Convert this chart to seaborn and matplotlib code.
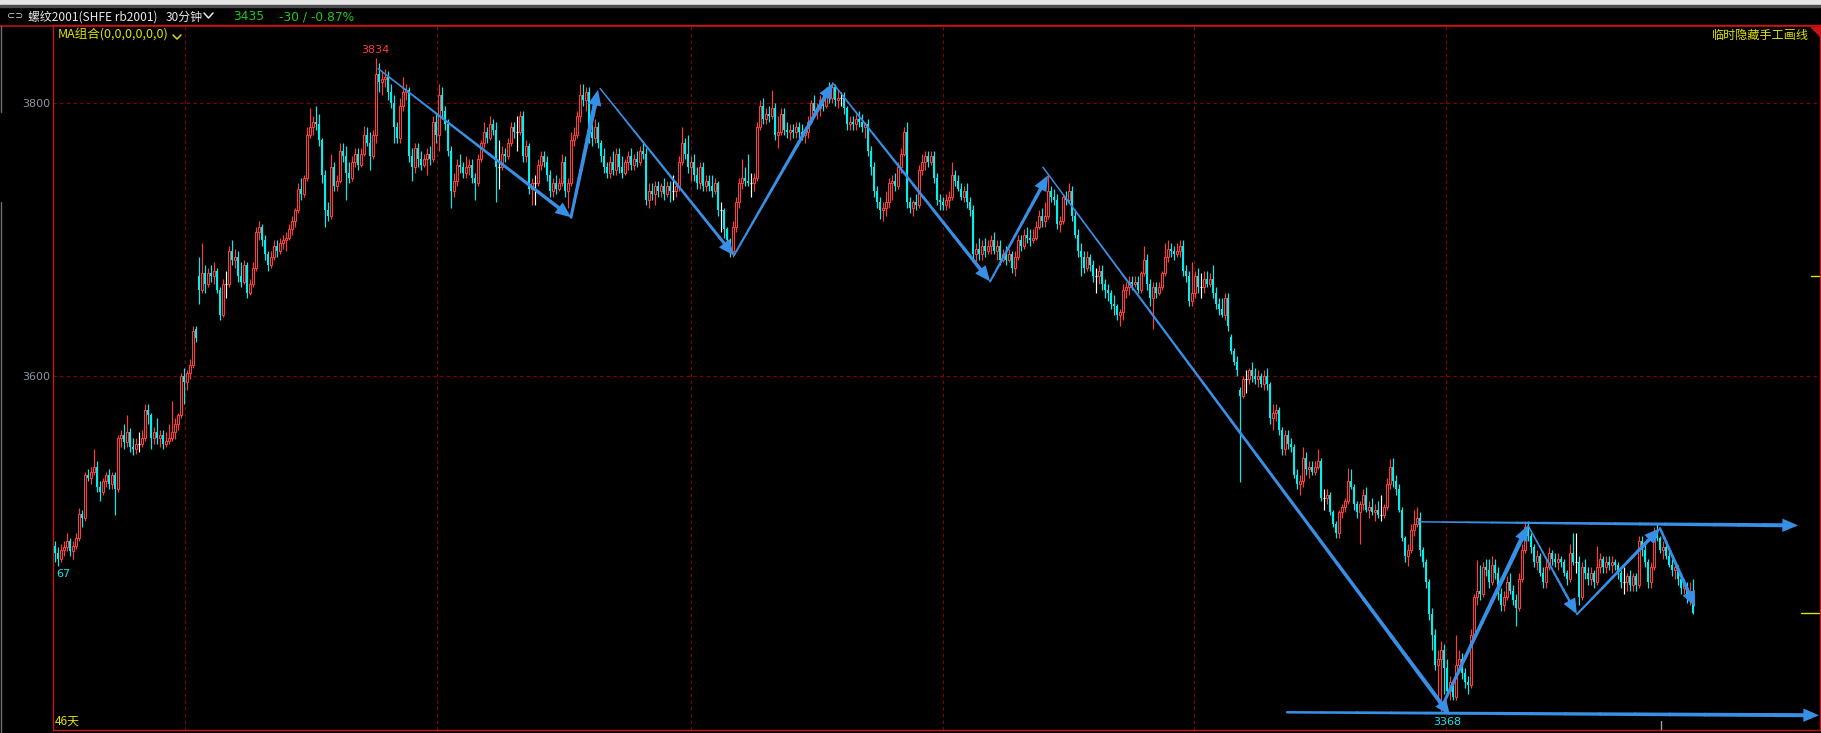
import numpy as np
import matplotlib
matplotlib.use("Agg")
import matplotlib.pyplot as plt
import seaborn as sns
from matplotlib.collections import LineCollection
from matplotlib.lines import Line2D
from matplotlib.patches import Rectangle, Polygon
from matplotlib.ticker import NullLocator

sns.set_style("dark", {"axes.facecolor": "black", "figure.facecolor": "black"})
plt.rcParams['font.family'] = ['DejaVu Sans', 'Noto Sans CJK SC']
CJK = ['Noto Sans CJK SC', 'DejaVu Sans']

# 30-minute candles, rb2001
opens = [
    3481, 3476, 3472, 3478, 3480, 3484, 3477, 3481, 3486, 3503,
    3500, 3530, 3528, 3532, 3536, 3522, 3518, 3526, 3530, 3524,
    3530, 3520, 3556, 3558, 3553, 3560, 3550, 3548, 3552, 3552,
    3556, 3576, 3572, 3556, 3560, 3556, 3558, 3552, 3554, 3556,
    3560, 3566, 3572, 3600, 3596, 3602, 3608, 3634, 3672, 3662,
    3674, 3666, 3674, 3672, 3676, 3662, 3644, 3666, 3666, 3690,
    3684, 3686, 3672, 3668, 3680, 3660, 3666, 3678, 3704, 3708,
    3698, 3688, 3680, 3686, 3694, 3690, 3696, 3698, 3700, 3706,
    3712, 3720, 3736, 3732, 3744, 3776, 3782, 3786, 3784, 3772,
    3746, 3720, 3716, 3752, 3738, 3742, 3764, 3760, 3748, 3744,
    3756, 3762, 3754, 3762, 3776, 3770, 3760, 3776, 3822, 3816,
    3818, 3820, 3808, 3800, 3782, 3774, 3798, 3808, 3810, 3760,
    3752, 3766, 3758, 3754, 3758, 3762, 3758, 3786, 3776, 3806,
    3794, 3784, 3764, 3734, 3742, 3754, 3752, 3748, 3752, 3754,
    3744, 3740, 3758, 3770, 3778, 3774, 3784, 3780, 3752, 3752,
    3762, 3760, 3770, 3782, 3778, 3778, 3790, 3760, 3768, 3736,
    3740, 3740, 3754, 3760, 3756, 3746, 3734, 3740, 3736, 3740,
    3756, 3734, 3740, 3772, 3776, 3790, 3806, 3802, 3808, 3778,
    3774, 3782, 3770, 3760, 3752, 3748, 3756, 3750, 3762, 3752,
    3748, 3756, 3760, 3754, 3758, 3756, 3764, 3762, 3728, 3734,
    3732, 3738, 3734, 3738, 3732, 3738, 3734, 3734, 3738, 3756,
    3770, 3762, 3752, 3756, 3746, 3740, 3752, 3738, 3742, 3738,
    3734, 3740, 3720, 3720, 3706, 3698, 3690, 3708, 3726, 3740,
    3744, 3742, 3740, 3740, 3744, 3782, 3798, 3788, 3792, 3790,
    3796, 3776, 3778, 3792, 3780, 3778, 3780, 3778, 3782, 3778,
    3776, 3778, 3786, 3800, 3794, 3796, 3802, 3798, 3808, 3804,
    3812, 3802, 3804, 3804, 3796, 3784, 3786, 3784, 3788, 3786,
    3782, 3784, 3764, 3752, 3734, 3726, 3720, 3722, 3726, 3740,
    3742, 3738, 3752, 3762, 3778, 3726, 3722, 3726, 3724, 3750,
    3756, 3760, 3756, 3760, 3744, 3728, 3726, 3724, 3728, 3730,
    3746, 3742, 3736, 3730, 3734, 3726, 3720, 3688, 3692, 3688,
    3694, 3690, 3694, 3698, 3690, 3694, 3684, 3688, 3684, 3688,
    3678, 3686, 3698, 3694, 3702, 3700, 3698, 3700, 3708, 3716,
    3712, 3716, 3734, 3730, 3728, 3710, 3712, 3730, 3728, 3734,
    3716, 3702, 3690, 3686, 3678, 3686, 3680, 3672, 3672, 3676,
    3666, 3662, 3660, 3652, 3650, 3644, 3646, 3662, 3664, 3668,
    3666, 3668, 3662, 3674, 3684, 3666, 3656, 3664, 3660, 3664,
    3674, 3686, 3692, 3690, 3688, 3690, 3694, 3676, 3672, 3654,
    3660, 3672, 3664, 3664, 3670, 3666, 3670, 3660, 3652, 3648,
    3644, 3656, 3628, 3618, 3610, 3590, 3586, 3598, 3598, 3604,
    3600, 3598, 3600, 3594, 3600, 3594, 3570, 3574, 3576, 3562,
    3548, 3558, 3552, 3550, 3530, 3524, 3526, 3542, 3534, 3536,
    3532, 3536, 3540, 3514, 3514, 3516, 3504, 3496, 3490, 3504,
    3508, 3512, 3526, 3522, 3510, 3504, 3510, 3516, 3506, 3508,
    3504, 3506, 3502, 3502, 3508, 3524, 3536, 3526, 3520, 3506,
    3486, 3474, 3478, 3492, 3496, 3500, 3478, 3470, 3456, 3434,
    3420, 3400, 3404, 3410, 3398, 3382, 3388, 3378, 3400, 3404,
    3394, 3388, 3386, 3420, 3446, 3450, 3448, 3466, 3464, 3456,
    3468, 3462, 3448, 3440, 3446, 3456, 3450, 3444, 3438, 3458,
    3478, 3494, 3488, 3480, 3470, 3474, 3462, 3456, 3466, 3476,
    3472, 3470, 3472, 3470, 3462, 3458, 3476, 3470, 3470, 3446,
    3466, 3462, 3458, 3462, 3456, 3466, 3472, 3466, 3470, 3468,
    3470, 3468, 3462, 3456, 3456, 3460, 3454, 3460, 3454, 3484,
    3478, 3470, 3456, 3466, 3490, 3486, 3478, 3480, 3474, 3468,
    3464, 3466, 3458, 3452, 3454, 3446, 3450,
]
highs = [
    3484, 3480, 3482, 3484, 3490, 3486, 3484, 3490, 3507, 3506,
    3532, 3534, 3536, 3548, 3540, 3526, 3528, 3532, 3534, 3532,
    3532, 3558, 3562, 3566, 3572, 3563, 3556, 3556, 3560, 3562,
    3580, 3580, 3574, 3564, 3570, 3562, 3562, 3560, 3566, 3582,
    3570, 3574, 3602, 3606, 3604, 3612, 3636, 3636, 3686, 3696,
    3680, 3678, 3680, 3682, 3678, 3664, 3670, 3676, 3694, 3698,
    3692, 3690, 3682, 3684, 3682, 3670, 3682, 3708, 3712, 3710,
    3702, 3690, 3690, 3698, 3698, 3700, 3702, 3704, 3710, 3716,
    3722, 3740, 3744, 3746, 3782, 3796, 3790, 3798, 3792, 3774,
    3750, 3726, 3762, 3756, 3746, 3770, 3770, 3768, 3756, 3760,
    3766, 3766, 3766, 3783, 3782, 3778, 3780, 3834, 3830, 3824,
    3826, 3824, 3814, 3806, 3786, 3804, 3820, 3814, 3812, 3766,
    3770, 3770, 3764, 3762, 3766, 3768, 3790, 3792, 3814, 3812,
    3798, 3788, 3768, 3748, 3758, 3762, 3756, 3760, 3758, 3758,
    3748, 3762, 3772, 3786, 3782, 3790, 3788, 3786, 3772, 3768,
    3766, 3774, 3786, 3786, 3790, 3794, 3794, 3772, 3770, 3744,
    3746, 3758, 3764, 3764, 3760, 3750, 3744, 3746, 3744, 3762,
    3760, 3744, 3778, 3782, 3794, 3814, 3814, 3812, 3812, 3784,
    3788, 3786, 3772, 3766, 3756, 3760, 3764, 3766, 3766, 3760,
    3758, 3764, 3766, 3762, 3764, 3768, 3770, 3766, 3740, 3740,
    3742, 3742, 3740, 3744, 3742, 3742, 3746, 3742, 3760, 3782,
    3774, 3776, 3760, 3762, 3752, 3756, 3756, 3746, 3746, 3746,
    3744, 3742, 3726, 3722, 3708, 3700, 3712, 3730, 3744, 3758,
    3752, 3762, 3748, 3748, 3786, 3802, 3804, 3796, 3798, 3810,
    3800, 3790, 3796, 3796, 3786, 3784, 3784, 3786, 3786, 3784,
    3782, 3790, 3802, 3806, 3800, 3806, 3808, 3812, 3816, 3816,
    3814, 3810, 3808, 3808, 3798, 3790, 3790, 3792, 3794, 3792,
    3786, 3788, 3768, 3756, 3738, 3730, 3726, 3734, 3744, 3746,
    3748, 3756, 3766, 3782, 3786, 3730, 3728, 3732, 3754, 3762,
    3764, 3764, 3764, 3764, 3748, 3732, 3730, 3732, 3734, 3756,
    3750, 3746, 3740, 3738, 3740, 3730, 3724, 3696, 3700, 3698,
    3700, 3698, 3702, 3704, 3698, 3698, 3692, 3694, 3692, 3690,
    3690, 3702, 3702, 3706, 3708, 3706, 3706, 3712, 3720, 3722,
    3726, 3746, 3738, 3736, 3732, 3716, 3732, 3734, 3740, 3738,
    3720, 3706, 3696, 3690, 3690, 3688, 3684, 3678, 3680, 3680,
    3670, 3666, 3662, 3658, 3652, 3648, 3666, 3668, 3672, 3672,
    3672, 3672, 3676, 3694, 3688, 3670, 3668, 3668, 3668, 3676,
    3696, 3698, 3696, 3694, 3696, 3698, 3698, 3680, 3676, 3682,
    3676, 3678, 3674, 3676, 3676, 3674, 3680, 3664, 3656, 3656,
    3660, 3660, 3630, 3620, 3614, 3592, 3600, 3604, 3606, 3610,
    3606, 3604, 3602, 3604, 3606, 3596, 3580, 3580, 3578, 3564,
    3562, 3562, 3556, 3552, 3534, 3530, 3550, 3546, 3540, 3540,
    3540, 3548, 3542, 3520, 3520, 3518, 3506, 3498, 3506, 3510,
    3514, 3535, 3534, 3524, 3512, 3512, 3520, 3522, 3512, 3514,
    3510, 3512, 3516, 3510, 3528, 3541, 3542, 3530, 3524, 3508,
    3488, 3482, 3496, 3506, 3508, 3504, 3480, 3472, 3458, 3438,
    3424, 3410, 3416, 3414, 3404, 3392, 3390, 3420, 3410, 3408,
    3398, 3392, 3424, 3448, 3471, 3468, 3470, 3472, 3472, 3474,
    3472, 3466, 3452, 3450, 3460, 3462, 3454, 3448, 3462, 3482,
    3498, 3498, 3490, 3482, 3478, 3476, 3466, 3472, 3480, 3478,
    3476, 3476, 3474, 3472, 3464, 3482, 3490, 3490, 3474, 3470,
    3472, 3466, 3466, 3464, 3481, 3476, 3474, 3474, 3474, 3474,
    3472, 3470, 3464, 3466, 3462, 3464, 3462, 3462, 3488, 3488,
    3482, 3472, 3470, 3494, 3496, 3488, 3484, 3482, 3478, 3472,
    3468, 3468, 3462, 3458, 3456, 3456, 3458,
]
lows = [
    3470, 3467, 3470, 3474, 3477, 3474, 3472, 3479, 3484, 3494,
    3498, 3526, 3524, 3530, 3518, 3512, 3516, 3522, 3520, 3520,
    3502, 3518, 3550, 3548, 3550, 3546, 3544, 3545, 3546, 3550,
    3554, 3566, 3548, 3552, 3552, 3550, 3548, 3550, 3552, 3554,
    3555, 3562, 3570, 3580, 3590, 3598, 3606, 3624, 3652, 3660,
    3660, 3664, 3668, 3666, 3660, 3640, 3642, 3656, 3664, 3680,
    3678, 3668, 3664, 3666, 3656, 3658, 3664, 3676, 3698, 3694,
    3684, 3676, 3678, 3684, 3686, 3688, 3692, 3690, 3698, 3702,
    3708, 3718, 3728, 3730, 3742, 3774, 3776, 3780, 3768, 3740,
    3708, 3712, 3714, 3734, 3734, 3740, 3756, 3728, 3740, 3742,
    3752, 3750, 3752, 3760, 3768, 3750, 3758, 3770, 3808, 3806,
    3812, 3802, 3796, 3770, 3770, 3770, 3794, 3802, 3756, 3742,
    3748, 3752, 3750, 3752, 3746, 3754, 3756, 3770, 3764, 3788,
    3780, 3760, 3722, 3730, 3738, 3748, 3744, 3744, 3746, 3740,
    3728, 3738, 3756, 3766, 3770, 3772, 3776, 3726, 3736, 3750,
    3756, 3758, 3768, 3774, 3764, 3776, 3756, 3756, 3732, 3724,
    3724, 3738, 3750, 3752, 3742, 3730, 3730, 3732, 3734, 3738,
    3730, 3722, 3738, 3768, 3774, 3786, 3798, 3794, 3770, 3768,
    3770, 3766, 3756, 3748, 3744, 3744, 3746, 3746, 3748, 3744,
    3746, 3750, 3750, 3750, 3752, 3754, 3758, 3724, 3722, 3728,
    3724, 3730, 3730, 3728, 3730, 3726, 3728, 3730, 3734, 3754,
    3758, 3748, 3742, 3742, 3736, 3736, 3734, 3734, 3734, 3730,
    3732, 3716, 3704, 3700, 3692, 3686, 3686, 3704, 3722, 3736,
    3738, 3738, 3730, 3734, 3742, 3780, 3784, 3784, 3786, 3788,
    3772, 3766, 3776, 3776, 3774, 3772, 3774, 3774, 3774, 3772,
    3770, 3774, 3784, 3790, 3788, 3790, 3794, 3796, 3800, 3800,
    3798, 3796, 3798, 3792, 3780, 3780, 3780, 3780, 3782, 3778,
    3774, 3760, 3746, 3730, 3722, 3714, 3712, 3716, 3722, 3728,
    3734, 3736, 3748, 3760, 3722, 3718, 3716, 3720, 3722, 3746,
    3750, 3752, 3754, 3740, 3724, 3720, 3720, 3720, 3722, 3728,
    3738, 3734, 3728, 3726, 3722, 3716, 3684, 3680, 3684, 3684,
    3686, 3688, 3688, 3688, 3684, 3680, 3682, 3680, 3682, 3674,
    3672, 3684, 3690, 3692, 3696, 3694, 3696, 3698, 3706, 3708,
    3708, 3714, 3726, 3724, 3706, 3704, 3710, 3724, 3726, 3712,
    3700, 3686, 3672, 3674, 3676, 3676, 3668, 3660, 3666, 3662,
    3656, 3654, 3648, 3644, 3640, 3636, 3640, 3656, 3658, 3662,
    3664, 3660, 3660, 3672, 3662, 3650, 3634, 3656, 3658, 3662,
    3672, 3682, 3686, 3684, 3686, 3686, 3672, 3668, 3650, 3650,
    3656, 3660, 3656, 3660, 3664, 3664, 3656, 3648, 3644, 3642,
    3640, 3632, 3616, 3608, 3600, 3525, 3584, 3588, 3594, 3596,
    3594, 3592, 3592, 3590, 3590, 3566, 3562, 3568, 3558, 3544,
    3544, 3548, 3546, 3528, 3520, 3516, 3522, 3530, 3528, 3530,
    3530, 3534, 3512, 3506, 3510, 3502, 3494, 3486, 3486, 3500,
    3504, 3510, 3520, 3506, 3500, 3482, 3506, 3504, 3500, 3502,
    3498, 3500, 3498, 3500, 3506, 3520, 3522, 3516, 3504, 3484,
    3470, 3467, 3476, 3488, 3494, 3474, 3466, 3452, 3430, 3410,
    3396, 3374, 3368, 3380, 3378, 3376, 3376, 3376, 3394, 3390,
    3384, 3380, 3384, 3418, 3440, 3444, 3446, 3460, 3452, 3454,
    3458, 3444, 3436, 3436, 3444, 3448, 3440, 3426, 3436, 3456,
    3476, 3484, 3476, 3466, 3464, 3460, 3452, 3452, 3464, 3468,
    3466, 3464, 3466, 3460, 3454, 3456, 3468, 3462, 3440, 3444,
    3458, 3454, 3454, 3452, 3454, 3462, 3462, 3462, 3464, 3462,
    3464, 3458, 3452, 3448, 3450, 3450, 3450, 3450, 3452, 3474,
    3466, 3452, 3452, 3464, 3484, 3476, 3472, 3472, 3466, 3460,
    3458, 3454, 3448, 3448, 3442, 3440, 3434,
]
closes = [
    3476, 3472, 3478, 3480, 3484, 3477, 3481, 3486, 3503, 3500,
    3530, 3528, 3532, 3536, 3522, 3518, 3526, 3530, 3524, 3530,
    3520, 3556, 3558, 3553, 3560, 3550, 3548, 3552, 3552, 3556,
    3576, 3572, 3556, 3560, 3556, 3558, 3552, 3554, 3556, 3560,
    3566, 3572, 3600, 3596, 3602, 3608, 3632, 3627, 3662, 3674,
    3666, 3674, 3672, 3676, 3662, 3644, 3666, 3666, 3690, 3684,
    3686, 3672, 3668, 3680, 3660, 3666, 3678, 3704, 3708, 3698,
    3688, 3680, 3686, 3694, 3690, 3696, 3698, 3700, 3706, 3712,
    3720, 3736, 3732, 3744, 3776, 3782, 3786, 3784, 3772, 3746,
    3720, 3716, 3752, 3738, 3742, 3764, 3760, 3748, 3744, 3756,
    3762, 3754, 3762, 3776, 3770, 3760, 3776, 3822, 3816, 3818,
    3820, 3808, 3800, 3782, 3774, 3798, 3808, 3810, 3760, 3752,
    3766, 3758, 3754, 3758, 3762, 3758, 3786, 3776, 3806, 3794,
    3784, 3764, 3734, 3742, 3754, 3752, 3748, 3752, 3754, 3744,
    3740, 3758, 3770, 3778, 3774, 3784, 3780, 3752, 3752, 3762,
    3760, 3770, 3782, 3778, 3778, 3790, 3760, 3768, 3736, 3740,
    3740, 3754, 3760, 3756, 3746, 3734, 3740, 3736, 3740, 3756,
    3734, 3740, 3772, 3776, 3790, 3806, 3802, 3808, 3778, 3774,
    3782, 3770, 3760, 3752, 3748, 3756, 3750, 3762, 3752, 3748,
    3756, 3760, 3754, 3758, 3756, 3764, 3762, 3728, 3734, 3732,
    3738, 3734, 3738, 3732, 3738, 3734, 3734, 3738, 3756, 3770,
    3762, 3752, 3756, 3746, 3740, 3752, 3738, 3742, 3738, 3734,
    3740, 3720, 3720, 3706, 3698, 3690, 3708, 3726, 3740, 3744,
    3742, 3740, 3740, 3744, 3782, 3798, 3788, 3792, 3790, 3796,
    3776, 3778, 3792, 3780, 3778, 3780, 3778, 3782, 3778, 3776,
    3778, 3786, 3800, 3794, 3796, 3802, 3798, 3808, 3804, 3812,
    3802, 3804, 3804, 3796, 3784, 3786, 3784, 3788, 3786, 3782,
    3784, 3764, 3752, 3734, 3726, 3720, 3722, 3726, 3740, 3742,
    3738, 3752, 3762, 3778, 3726, 3722, 3726, 3724, 3750, 3756,
    3760, 3756, 3760, 3744, 3728, 3726, 3724, 3728, 3730, 3746,
    3742, 3736, 3730, 3734, 3726, 3720, 3688, 3692, 3688, 3694,
    3690, 3694, 3698, 3690, 3694, 3684, 3688, 3684, 3688, 3678,
    3686, 3698, 3694, 3702, 3700, 3698, 3700, 3708, 3716, 3712,
    3716, 3734, 3730, 3728, 3710, 3712, 3730, 3728, 3734, 3716,
    3702, 3690, 3686, 3678, 3686, 3680, 3672, 3672, 3676, 3666,
    3662, 3660, 3652, 3650, 3644, 3646, 3662, 3664, 3668, 3666,
    3668, 3662, 3674, 3684, 3666, 3656, 3664, 3660, 3664, 3674,
    3686, 3692, 3690, 3688, 3690, 3694, 3676, 3672, 3654, 3660,
    3672, 3664, 3664, 3670, 3666, 3670, 3660, 3652, 3648, 3644,
    3656, 3636, 3618, 3610, 3604, 3586, 3598, 3598, 3604, 3600,
    3598, 3600, 3594, 3600, 3594, 3570, 3574, 3576, 3562, 3548,
    3558, 3552, 3550, 3530, 3524, 3526, 3542, 3534, 3536, 3532,
    3536, 3540, 3514, 3514, 3516, 3504, 3496, 3490, 3504, 3508,
    3512, 3526, 3522, 3510, 3504, 3510, 3516, 3506, 3508, 3504,
    3506, 3502, 3502, 3508, 3524, 3536, 3526, 3520, 3506, 3486,
    3474, 3478, 3492, 3496, 3500, 3478, 3470, 3456, 3434, 3420,
    3400, 3404, 3410, 3398, 3382, 3388, 3378, 3400, 3404, 3394,
    3388, 3386, 3420, 3446, 3450, 3448, 3466, 3464, 3456, 3468,
    3462, 3448, 3440, 3446, 3456, 3450, 3444, 3438, 3458, 3478,
    3494, 3488, 3480, 3470, 3474, 3462, 3456, 3466, 3476, 3472,
    3470, 3472, 3470, 3462, 3458, 3476, 3470, 3470, 3446, 3466,
    3462, 3458, 3462, 3456, 3466, 3472, 3466, 3470, 3468, 3470,
    3468, 3462, 3456, 3456, 3460, 3454, 3460, 3454, 3484, 3478,
    3470, 3456, 3466, 3490, 3486, 3478, 3480, 3474, 3468, 3464,
    3466, 3458, 3452, 3454, 3446, 3450, 3435,
]

# price-axis labels and day separators (candle index)
ytick_vals = [3600, 3800]
ytick_labels = ['3600', '3800']
day_marks = [43.3, 127.3, 212, 296, 379.7, 463.7]

# hand-drawn trend arrows: start/end candle index and price
arrow_x0 = [107.7, 172, 181.7, 226.3, 259.3, 311.7, 329.3, 463.3, 491, 507.3, 535, 454.3, 410.7]
arrow_p0 = [3826, 3715, 3811, 3687, 3815, 3668, 3752, 3376, 3495, 3434, 3493, 3497.5, 3368]
arrow_x1 = [172, 181, 226.3, 259.3, 311.7, 331, 465, 491, 507.3, 535, 546.7, 581, 588]
arrow_p1 = [3715, 3810, 3687, 3815, 3668, 3746, 3366, 3495, 3434, 3493, 3439, 3495, 3366]
# tail / head line widths in px (style)
arrow_w0 = [1.5, 3.0, 1.5, 2.0, 1.5, 2.0, 1.5, 3.0, 1.5, 2.0, 2.5, 1.5, 2.5]
arrow_w1 = [3.5, 4.5, 3.0, 4.0, 3.5, 3.5, 4.0, 4.5, 2.5, 3.5, 3.5, 4.0, 4.0]

RED = '#ff3c3c'
CYAN = '#00f0f0'
BORDER = '#c81414'
GRID = '#8a0000'
YELLOW = '#e0e000'
BLUE = '#3890e6'
GREEN = '#1ec81e'
LABEL = '#8c96a0'

W, H = 1821, 733


def fx(px):
    return px / W


def fy(py):
    return 1 - py / H


fig = plt.figure(figsize=(W / 100, H / 100), dpi=100)
ax = fig.add_axes([fx(53), 3 / H, (1820 - 53) / W, (730 - 25) / H])
ax.set_facecolor('black')

o = np.array(opens, dtype=float)
h = np.array(highs, dtype=float)
l = np.array(lows, dtype=float)
c = np.array(closes, dtype=float)
x = np.arange(len(c))
up = c > o
dn = c < o
flat = c == o

# falling candles: solid cyan
ax.vlines(x[dn], l[dn], h[dn], color=CYAN, lw=0.85, zorder=3)
ax.bar(x[dn], (o - c)[dn], bottom=c[dn], width=0.85, color=CYAN, linewidth=0, zorder=4)
# rising candles: hollow red
ax.vlines(x[up], c[up], h[up], color=RED, lw=0.85, zorder=3)
ax.vlines(x[up], l[up], o[up], color=RED, lw=0.85, zorder=3)
ax.bar(x[up], (c - o)[up], bottom=o[up], width=0.85, facecolor='black',
       edgecolor=RED, linewidth=0.75, zorder=4)
# unchanged: white cross
ax.vlines(x[flat], l[flat], h[flat], color='white', lw=0.85, zorder=3)
ax.hlines(c[flat], x[flat] - 0.45, x[flat] + 0.45, color='white', lw=0.85, zorder=4)

ax.set_yscale('log')
ax.set_ylim(3356.2, 3859.2)
ax.set_xlim(-2 / 3, (1820 - 55) / 3)
ax.set_yticks(ytick_vals, labels=ytick_labels)
ax.yaxis.set_minor_locator(NullLocator())
ax.set_xticks(day_marks)
ax.xaxis.set_minor_locator(NullLocator())
ax.tick_params(axis='y', length=0, pad=2.2, labelcolor=LABEL, labelsize=8)
ax.tick_params(axis='x', length=0, labelbottom=False)
ax.grid(True, which='major', color=GRID, linestyle=(0, (3, 3)), linewidth=0.8)
ax.set_axisbelow(True)
for side in ['left', 'right', 'bottom', 'top']:
    ax.spines[side].set_visible(True)
    ax.spines[side].set_color(BORDER)
    ax.spines[side].set_linewidth(1.0)


def draw_arrow(x0, p0, x1, p1, w0, w1):
    a = ax.transData.transform([(x0, p0), (x1, p1)])
    length = np.hypot(*(a[1] - a[0]))
    t_end = max(0.0, 1 - 10 / length)
    t = np.linspace(0, t_end, 16)
    xs = x0 + (x1 - x0) * t
    ys = p0 * (p1 / p0) ** t
    pts = np.column_stack([xs, ys])
    segs = np.stack([pts[:-1], pts[1:]], axis=1)
    lc = LineCollection(segs, linewidths=np.linspace(w0, w1, 15) * 0.72,
                        colors=BLUE, capstyle='round', zorder=6)
    ax.add_collection(lc)
    ax.annotate('', xy=(x1, p1), xytext=(x0, p0), zorder=7,
                arrowprops=dict(arrowstyle='-|>,head_length=0.75,head_width=0.32',
                                color=BLUE, lw=0, mutation_scale=15,
                                shrinkA=0, shrinkB=0))


for k in range(len(arrow_x0)):
    draw_arrow(arrow_x0[k], arrow_p0[k], arrow_x1[k], arrow_p1[k], arrow_w0[k], arrow_w1[k])

# extreme labels
i_hi = int(np.argmax(h))
i_lo = int(np.argmin(l))
ax.annotate(f'{h[i_hi]:.0f}', xy=(i_hi, h[i_hi]), xytext=(-0.7, 2.2), textcoords='offset points',
            ha='center', va='bottom', color=RED, fontsize=8, zorder=8)
ax.annotate(f'{l[i_lo]:.0f}', xy=(i_lo, l[i_lo]), xytext=(4.3, -3.2), textcoords='offset points',
            ha='center', va='top', color=CYAN, fontsize=8, zorder=8)

# window chrome
fig.add_artist(Rectangle((0, fy(4.5)), 1, 4.5 / H, transform=fig.transFigure,
                         color='#e4e4e4', zorder=0))
fig.add_artist(Rectangle((0, fy(6.5)), 1, 2 / H, transform=fig.transFigure,
                         color='#4a4a4a', zorder=0))
fig.add_artist(Line2D([0, 1], [fy(25.5), fy(25.5)], color=BORDER, lw=1.1))
fig.add_artist(Line2D([fx(0.5), fx(0.5)], [fy(26), fy(112)], color='#707070', lw=1))
fig.add_artist(Line2D([fx(0.5), fx(0.5)], [fy(202), fy(733)], color='#707070', lw=1))
fig.add_artist(Polygon([(fx(1811), fy(27)), (fx(1820), fy(27)), (fx(1820), fy(36))],
                       closed=True, transform=fig.transFigure, color=BORDER))

fig.text(fx(7), fy(16.5), '⊂⊃', color='#d0d0d0', fontsize=7, va='center')
fig.text(fx(28), fy(17), '螺纹2001(SHFE rb2001)', color='#e8e8e8', fontsize=8.6,
         va='center', family=CJK)
fig.text(fx(166), fy(17), '30分钟', color='#e8e8e8', fontsize=8.6, va='center', family=CJK)
fig.add_artist(Line2D([fx(204), fx(208.5), fx(213)], [fy(13), fy(18), fy(13)],
                      color='#e8e8e8', lw=1.1))
fig.text(fx(233), fy(17), '3435', color=GREEN, fontsize=8.8, va='center')
fig.text(fx(279), fy(17), '-30 / -0.87%', color=GREEN, fontsize=8.8, va='center')

fig.text(fx(58), fy(35), 'MA组合(0,0,0,0,0,0)', color=YELLOW, fontsize=9, va='center', family=CJK)
fig.add_artist(Line2D([fx(173), fx(177), fx(181)], [fy(35), fy(39), fy(35)], color=YELLOW, lw=1.1))
fig.text(fx(1809), fy(35), '临时隐藏手工画线', color=YELLOW, fontsize=8.7, ha='right',
         va='center', family=CJK)
fig.text(fx(56), fy(574), '67', color=CYAN, fontsize=8, va='center')
fig.text(fx(55), fy(721), '46天', color=YELLOW, fontsize=8.6, va='center', family=CJK)

# right-edge markers and cursor tick
fig.add_artist(Line2D([fx(1811), fx(1819)], [fy(276), fy(276)], color=YELLOW, lw=1))
fig.add_artist(Line2D([fx(1801), fx(1819)], [fy(613), fy(613)], color=YELLOW, lw=1))
fig.add_artist(Line2D([fx(1661), fx(1661)], [fy(721), fy(729)], color='#a0a0a0', lw=1))

fig.savefig('out.png', dpi=100, facecolor='black')
